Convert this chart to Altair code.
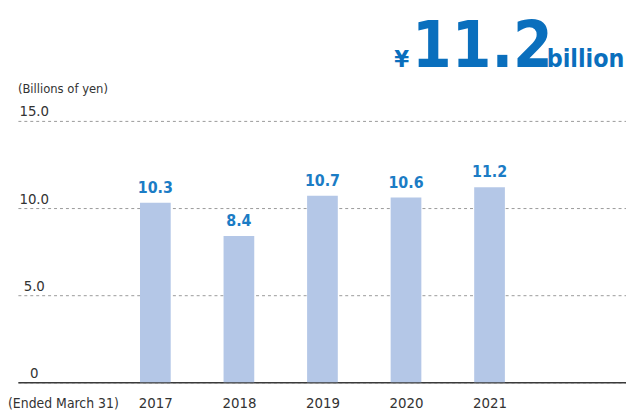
import altair as alt
import pandas as pd

years = [2017, 2018, 2019, 2020, 2021]
values = [10.3, 8.4, 10.7, 10.6, 11.2]
value_labels = ["10.3", "8.4", "10.7", "10.6", "11.2"]
y_ticks = [0, 5, 10, 15]

df = pd.DataFrame({"year": years, "value": values, "label": value_labels})

FONT = "'DejaVu Sans Condensed', 'Liberation Sans Narrow', Roboto, sans-serif"
BLUE = "#1b7cc5"
TITLE_BLUE = "#0a6fbd"
BAR = "#b4c7e7"

x_scale = alt.Scale(domain=[2015.414, 2022.574], nice=False, zero=False)
y_scale = alt.Scale(domain=[0, 15], nice=False)

x_axis = alt.Axis(values=years, format="d", title=None, ticks=False, tickSize=0,
                  labelPadding=13, labelFontSize=15, labelFont=FONT, labelColor="#333333",
                  domainColor="#3a3a3a", domainWidth=1.5, grid=False)
y_axis = alt.Axis(values=y_ticks, title=None, ticks=False, tickSize=0, domain=False,
                  labelAlign="center", labelPadding=-16, labelBaseline="alphabetic",
                  labelOffset=-5, labelFontSize=15, labelFont=FONT, labelColor="#333333",
                  labelExpr="datum.value == 0 ? '0' : format(datum.value, '.1f')",
                  grid=True, gridDash=[3, 3], gridColor="#9a9a9a", gridWidth=1)

base = alt.Chart(df)

bars = base.mark_bar(color=BAR, size=31).encode(
    x=alt.X("year:Q", scale=x_scale, axis=x_axis),
    y=alt.Y("value:Q", scale=y_scale, axis=y_axis),
)

labels = base.mark_text(color=BLUE, fontSize=16, font=FONT, fontWeight="bold",
                        baseline="alphabetic", dy=-10).encode(
    x=alt.X("year:Q", scale=x_scale, axis=x_axis),
    y=alt.Y("value:Q", scale=y_scale, axis=y_axis),
    text="label:N",
)

def txt(s, x, y, size, color, weight="normal", font=FONT):
    return alt.Chart(pd.DataFrame({"t": [s]})).mark_text(
        align="left", baseline="alphabetic", fontSize=size, color=color,
        fontWeight=weight, font=font,
    ).encode(x=alt.value(x), y=alt.value(y), text="t:N")

yen = txt("¥", 380, -54, 24, TITLE_BLUE, "bold")
big = txt("11.2", 398, -54, 64, TITLE_BLUE, "bold")
billion = txt("billion", 534, -54, 25, TITLE_BLUE, "bold")
unit = txt("(Billions of yen)", 0, -28, 13, "#333333")
ended = txt("(Ended March 31)", -10, 290, 14, "#333333")

chart = alt.layer(bars, labels, yen, big, billion, unit, ended).properties(
    width=614, height=264,
    background="white",
    autosize=alt.AutoSizeParams(type="none"),
    padding={"left": 10, "top": 112, "right": 0, "bottom": 35},
).configure_view(strokeWidth=0, stroke=None)

chart.save("out.html", embed_options={"renderer": "svg", "actions": False})
